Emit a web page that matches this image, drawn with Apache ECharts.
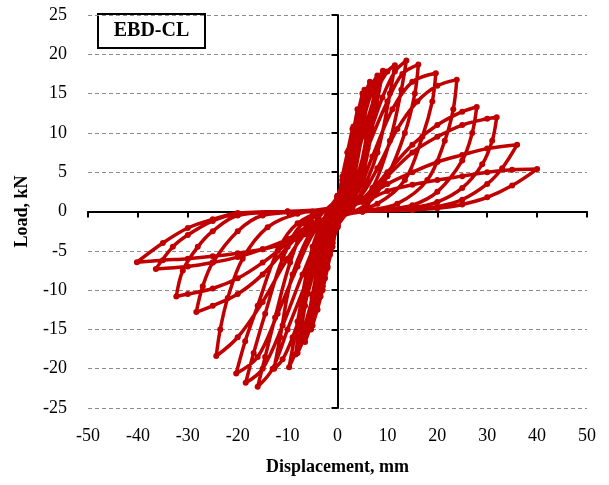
<!DOCTYPE html>
<html>
<head>
<meta charset="utf-8">
<title>EBD-CL hysteresis</title>
<script src="https://cdn.jsdelivr.net/npm/echarts@6/dist/echarts.min.js"></script>
<style>
  html, body { margin: 0; padding: 0; background: #fff; }
  #chart { width: 609px; height: 485px; }
</style>
</head>
<body>
<div id="chart"></div>
<script>
// Load–displacement record, one array per cycle: [displacement (mm), load (kN)]
const loop01 = [[0,0],[0.5,2.5],[1.0,4.0],[0.5,1.5],[0,-0.5],[-0.5,-2.2],[-1.0,-3.5],[-0.5,-1.3],[0,0.5]];
const loop02 = [[1,4.5],[2,7.5],[1.2,3.5],[0,-0.8],[-1,-4.5],[-2,-7.0],[-1.2,-3.0],[0,0.8]];
const loop03 = [[1,4],[2,7.5],[3,10.5],[2,5.5],[1,1.5],[0,-1.2],[-1,-4.0],[-2,-7.2],[-3,-10],[-2,-5],[-1,-1.2],[0,1.2]];
const loop03b = [[1.2,3.5],[2.2,7.8],[3.2,10.8],[2.4,6.5],[1,1],[-0.5,-1.8],[-1.5,-5.5],[-2.5,-8.5],[-3.4,-10.8],[-2.5,-6],[-1,-1],[0.5,1.5]];
const loop04 = [[1,3.5],[2.5,8],[4,13],[3,8],[1.5,2.5],[0,-1.5],[-1.5,-5],[-3,-9.5],[-4,-12.5],[-3,-7.5],[-1.5,-2.0],[0,1.5]];
const loop05 = [[1.5,4.5],[3,9.5],[5,15],[4,10],[2,3],[0,-1.8],[-1.5,-5],[-3,-10],[-5,-14.5],[-4,-9],[-2,-2.5],[0,1.8]];
const loop05b = [[1.8,4.2],[3.5,10],[5.4,15.5],[4.5,11],[2.5,3.5],[0.5,-1],[-1,-4],[-3,-9.5],[-5.3,-15],[-4.3,-10],[-2.5,-3],[0.3,2]];
const loop06 = [[1.5,4],[3.5,10],[5,14],[6.5,16.5],[5.2,11],[3,3.5],[0,-2],[-2,-5.5],[-4,-11],[-5.5,-14.8],[-6.5,-16.6],[-5,-10.5],[-2.5,-3],[0,2]];
const loop07 = [[2,4.5],[4,10.5],[6,15],[8,17.3],[6.5,12],[4,4],[1,-0.5],[0,-2],[-2,-5],[-4,-10.5],[-6,-15],[-8,-18],[-6.5,-12],[-4,-4],[-1,0.5],[0,2]];
const loop07b = [[2.5,4.5],[4.5,10.5],[6.5,15.2],[8.3,17],[7,12.5],[4.5,4.5],[1.5,0],[0,-1.8],[-2.5,-5.5],[-4.5,-11],[-6.5,-15.5],[-8.4,-18.2],[-7,-12.5],[-4.5,-4.5],[-1.5,0],[0,1.8]];
const loop08 = [[2,4],[4.5,10],[7,15.5],[9.1,17.9],[7.5,12.5],[5,4.5],[2,0],[0,-1.8],[-2.5,-5],[-5,-11],[-7.5,-16.5],[-9.7,-19.8],[-8,-14],[-5,-4.5],[-2,0],[0,1.8]];
const loop09 = [[2.5,3.5],[5,9.5],[8,15.5],[10,17.8],[11.5,18.6],[10.5,15],[8,7.5],[4,1.5],[0,-1.5],[-3,-4],[-6,-10.5],[-9,-16],[-11,-18.8],[-12.7,-20],[-11.5,-16],[-9,-8],[-4,-1],[0,1.5]];
const loop10 = [[3,3],[6,9],[9,14.5],[11.5,17.8],[13.8,19.2],[12.8,15.5],[10.5,9],[7,3],[3,0.5],[0,-1.2],[-3,-3],[-6,-8.5],[-10,-15],[-13,-20],[-16,-22.3],[-14.5,-18.5],[-12.5,-13.5],[-9.5,-6.5],[-6,-1.5],[0,1.2]];
const loop11 = [[3,2.5],[6,8],[10,14],[13,17.5],[16.2,18.7],[15.5,15],[13.5,10],[10,4.5],[6,1],[0,-1],[-3,-2.5],[-7,-8],[-11,-14.5],[-15,-20],[-18.4,-21.8],[-16.8,-18],[-14.5,-13],[-11,-6],[-7,-1.5],[0,1]];
const loop12 = [[3.5,2],[7,7],[11,13],[15,16.5],[19.7,17.6],[19,14],[17,9.5],[13.5,4],[8,1],[0,-0.8],[-4,-2],[-8,-7],[-12,-13],[-16,-18.5],[-20.3,-20.6],[-18.5,-16.5],[-16,-12],[-12,-5],[-8,-1.5],[0,0.8]];
const loop13 = [[4,1.5],[8,5.5],[12,10.5],[16,14],[20,16],[23.9,16.75],[23.2,13],[21.5,9],[18,4],[12,1],[5,0],[0,-0.6],[-5,-1.8],[-10,-6],[-15,-11.5],[-20,-16],[-24.3,-18.4],[-23.5,-15],[-22,-11],[-19,-6],[-14,-2],[-8,-0.3],[0,0.6]];
const loop14 = [[5,1.5],[10,5],[15,8.5],[20,11],[25,12.7],[27.9,13.3],[27,10],[25,6.5],[20,2.5],[15,0.8],[10,0.3],[0,-0.5],[-5,-1.5],[-10,-4.5],[-15,-8],[-20,-10.5],[-25,-12],[-28.3,-12.8],[-27,-9.5],[-25,-6.5],[-20,-2.5],[-15,-0.5],[-5,0],[0,0.5]];
const loop15 = [[5,1.5],[10,4.5],[15,7.5],[20,9.5],[25,11],[30,11.8],[31.9,12.0],[31,9],[29,6],[25,3],[20,1.2],[15,0.5],[5,0],[0,-0.5],[-5,-1.5],[-10,-4],[-15,-6.5],[-20,-8.5],[-25,-9.8],[-30,-10.5],[-32.3,-10.8],[-31,-7.5],[-28,-4.5],[-25,-2.5],[-20,-0.5],[-10,0],[0,0.4]];
const loop16 = [[5,1.5],[10,3.5],[15,5],[20,6.3],[25,7.2],[30,8],[36,8.5],[33,5.5],[30,3.5],[25,1.5],[20,0.6],[15,0.2],[5,0],[0,-0.4],[-5,-1.5],[-10,-3.5],[-15,-4.8],[-20,-5.8],[-25,-6.5],[-30,-7],[-36.4,-7.3],[-33,-4.5],[-30,-3],[-25,-1.2],[-20,-0.3],[-10,0],[0,0.4]];
const loop17 = [[5,1.2],[10,2.6],[15,3.4],[20,4.0],[25,4.5],[30,5.0],[35,5.3],[40,5.4],[35,3.3],[30,1.8],[25,0.9],[20,0.4],[15,0.2],[5,0],[0,-0.4],[-5,-2.5],[-10,-4],[-15,-4.8],[-20,-5.3],[-25,-5.7],[-30,-6],[-35,-6.2],[-40.2,-6.45],[-35,-4],[-30,-2.1],[-25,-1.0],[-20,-0.2],[-10,0],[0,0]];

const loops = [loop01, loop02, loop03, loop03b, loop04, loop05, loop05b, loop06, loop07, loop07b,
               loop08, loop09, loop10, loop11, loop12, loop13, loop14, loop15, loop16, loop17];

const xTicks = { min: -50, max: 50, step: 10 };
const yTicks = { min: -25, max: 25, step: 5 };

const specimen = 'EBD-CL';
const xTitle = 'Displacement, mm';
const yTitle = 'Load, kN';

const serif = '"Liberation Serif", "Times New Roman", serif';
const red = '#C00000';

const record = [].concat(...loops);

const chart = echarts.init(document.getElementById('chart'), null, { renderer: 'canvas' });

chart.setOption({
  animation: false,
  backgroundColor: '#ffffff',
  grid: { left: 88, right: 22, top: 15, bottom: 77, containLabel: false },
  xAxis: [
    {
      type: 'value',
      min: xTicks.min, max: xTicks.max, interval: xTicks.step,
      position: 'bottom',
      axisLine: { show: false, onZero: false },
      axisTick: { show: false },
      splitLine: { show: false },
      axisLabel: { fontFamily: serif, fontSize: 18, color: '#000', margin: 19 },
      name: xTitle,
      nameLocation: 'middle',
      nameGap: 50,
      nameTextStyle: { fontFamily: serif, fontSize: 18, fontWeight: 'bold', color: '#000' }
    },
    {
      type: 'value',
      min: xTicks.min, max: xTicks.max, interval: xTicks.step,
      position: 'bottom',
      axisLine: { show: true, onZero: true, onZeroAxisIndex: 0, lineStyle: { color: '#000', width: 2 } },
      axisTick: { show: true, inside: false, length: 6, lineStyle: { color: '#000', width: 2 } },
      axisLabel: { show: false },
      splitLine: { show: false }
    }
  ],
  yAxis: [
    {
      type: 'value',
      min: yTicks.min, max: yTicks.max, interval: yTicks.step,
      position: 'left',
      axisLine: { show: false, onZero: false },
      axisTick: { show: false },
      splitLine: { show: true, lineStyle: { color: '#8c8c8c', width: 1, type: [4, 3] } },
      axisLabel: { fontFamily: serif, fontSize: 18, color: '#000', margin: 21 },
      name: yTitle,
      nameLocation: 'middle',
      nameGap: 57,
      nameRotate: 90,
      nameTextStyle: { fontFamily: serif, fontSize: 18, fontWeight: 'bold', color: '#000' }
    },
    {
      type: 'value',
      min: yTicks.min, max: yTicks.max, interval: yTicks.step,
      position: 'left',
      axisLine: { show: true, onZero: true, onZeroAxisIndex: 0, lineStyle: { color: '#000', width: 2 } },
      axisTick: { show: true, inside: false, length: 6, lineStyle: { color: '#000', width: 2 } },
      axisLabel: { show: false },
      splitLine: { show: false }
    }
  ],
  series: [
    {
      type: 'line',
      xAxisIndex: 0,
      yAxisIndex: 0,
      data: record,
      smooth: 0.35,
      showSymbol: true,
      symbol: 'circle',
      symbolSize: 6,
      itemStyle: { color: red },
      lineStyle: { color: red, width: 3.5 },
      z: 5
    }
  ],
  graphic: [
    {
      type: 'group',
      left: 97,
      top: 13,
      children: [
        {
          type: 'rect',
          shape: { x: 0, y: 0, width: 107, height: 34 },
          style: { fill: '#fff', stroke: '#000', lineWidth: 2 }
        },
        {
          type: 'text',
          x: 53.5,
          y: 17,
          style: {
            text: specimen,
            font: 'bold 20px ' + serif,
            fill: '#000',
            textAlign: 'center',
            textVerticalAlign: 'middle'
          }
        }
      ],
      z: 10
    }
  ]
});
</script>
</body>
</html>
